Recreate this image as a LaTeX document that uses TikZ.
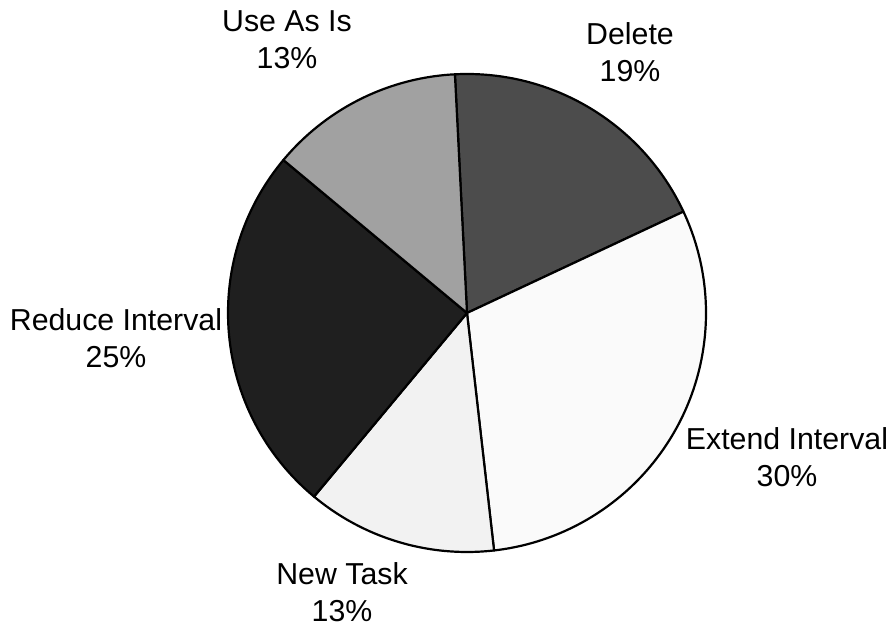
\documentclass[tikz,border=0pt]{standalone}
\usepackage{fontspec}
\setmainfont{Liberation Sans}
\begin{document}
\begin{tikzpicture}[x=1pt,y=1pt,
  slice/.style={draw=black,line width=2.2pt,line join=round},
  lbl/.style={align=center,inner sep=0pt,font=\fontsize{30.3}{37}\selectfont}]
\useasboundingbox (0,0) rectangle (890,628);
\coordinate (c) at (467,315);
\def\R{239}
\filldraw[slice,fill=black!70] (c) -- ++(92.9:\R) arc (92.9:25.1:\R) -- cycle;
\filldraw[slice,fill=black!2] (c) -- ++(25.1:\R) arc (25.1:-83.5:\R) -- cycle;
\filldraw[slice,fill=black!5] (c) -- ++(-83.5:\R) arc (-83.5:-129.8:\R) -- cycle;
\filldraw[slice,fill=black!88] (c) -- ++(-129.8:\R) arc (-129.8:-219.8:\R) -- cycle;
\filldraw[slice,fill=black!37] (c) -- ++(140.2:\R) arc (140.2:92.9:\R) -- cycle;
\node[lbl] (use) at (287,588) {Use As Is\\13\%};
\node[lbl] (del) at (630,576) {Delete\\19\%};
\node[lbl] (red) at (116,290) {Reduce Interval\\25\%};
\node[lbl] (ext) at (787,171) {Extend Interval\\30\%};
\node[lbl] (new) at (342,36) {New Task\\13\%};
\end{tikzpicture}
\end{document}
